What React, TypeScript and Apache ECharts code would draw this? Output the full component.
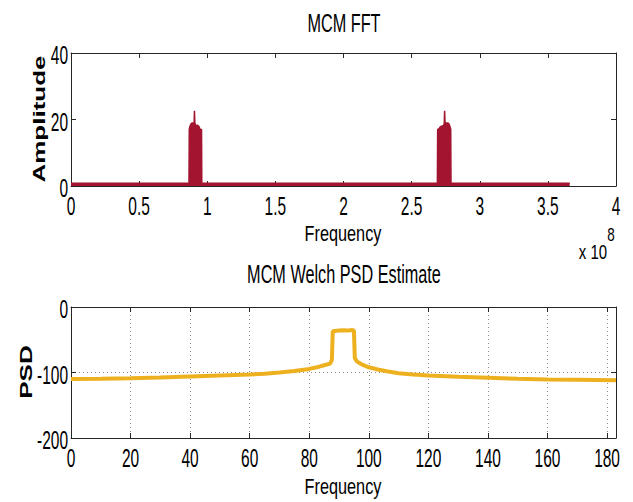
import React, { useEffect, useRef } from "react";
import * as echarts from "echarts";

// FFT spectrum (frequency in units of 1e8 Hz, amplitude)
const fftFreq = [
  0, 0.866, 0.868, 0.872, 0.88, 0.89, 0.9, 0.904, 0.906, 0.909, 0.915, 0.93, 0.94, 0.948, 0.958, 0.96,
  2.689, 2.691, 2.7, 2.71, 2.72, 2.735, 2.74, 2.742, 2.745, 2.755, 2.765, 2.775, 2.782, 2.787, 2.789, 3.66,
];
const fftAmp = [
  0.8, 0.8, 17.0, 17.8, 18.6, 19.0, 18.8, 19.2, 22.6, 19.0, 18.2, 18.3, 17.8, 17.0, 17.0, 0.8,
  0.8, 17.0, 17.2, 17.8, 18.0, 18.2, 19.0, 22.6, 19.2, 18.8, 19.0, 18.6, 17.8, 17.0, 0.8, 0.8,
];

// Welch PSD estimate
const psdFreq = [
  0, 10, 20, 30, 40, 50, 60, 65, 70, 75, 80, 83, 85, 87, 87.6, 87.9, 88.5, 90, 91.5, 93, 94.5, 95.0,
  95.3, 96, 97, 98, 100, 103, 106, 110, 115, 120, 130, 140, 150, 160, 170, 183,
];
const psdDb = [
  -110, -109.5, -108.8, -107.5, -106, -104.5, -103, -101.8, -100, -97.8, -94.5, -91.5, -89, -86.5, -81,
  -37, -36.5, -36, -35.5, -35.8, -35.2, -36, -78, -83, -86, -88.5, -92, -95.5, -98, -101, -103, -104.5,
  -106.5, -108, -109.5, -110.5, -111, -112,
];

// tick labels
const fftTickLabels = ["0", "0.5", "1", "1.5", "2", "2.5", "3", "3.5", "4"];
const ampTickLabels = ["0", "20", "40"];
const psdFreqTickLabels = ["0", "20", "40", "60", "80", "100", "120", "140", "160", "180"];
const psdTickLabels = ["-200", "-100", "0"];

const fftRange = { min: 0, max: 4, interval: 0.5 };
const ampRange = { min: 0, max: 40, interval: 20 };
const psdFreqRange = { min: 0, max: 183, interval: 20 };
const psdRange = { min: -200, max: 0, interval: 100 };

const RED = "#A2142F";
const YELLOW = "#EDB120";
const AXIS = "#262626";
const SANS = "'Liberation Sans', Arial, sans-serif";

export default function App() {
  const ref = useRef<HTMLDivElement>(null);

  useEffect(() => {
    document.body.style.margin = "0";
    const chart = echarts.init(ref.current!, undefined, { renderer: "svg" });

    const tick = { show: true, inside: true, length: 5, lineStyle: { color: AXIS } };
    const line = { show: true, lineStyle: { color: AXIS, width: 1 } };
    const grid = { show: true, lineStyle: { color: "#8c8c8c", type: [1, 3], width: 1 } };

    const mkAxis = (g: number, t: any, pos: string, split: boolean) => ({
      type: "value",
      gridIndex: g,
      position: pos,
      min: t.min,
      max: t.max,
      interval: t.interval,
      axisLine: { ...line, onZero: false },
      axisTick: tick,
      axisLabel: { show: false },
      splitLine: split ? grid : { show: false },
    });

    chart.setOption({
      animation: false,
      backgroundColor: "#fff",
      grid: [
        { left: 71, top: 53, width: 545, height: 133 },
        { left: 71, top: 307, width: 545, height: 131 },
      ],
      xAxis: [
        mkAxis(0, fftRange, "bottom", false),
        mkAxis(0, fftRange, "top", false),
        mkAxis(1, psdFreqRange, "bottom", true),
        mkAxis(1, psdFreqRange, "top", false),
      ],
      yAxis: [
        mkAxis(0, ampRange, "left", false),
        mkAxis(0, ampRange, "right", false),
        mkAxis(1, psdRange, "left", true),
        mkAxis(1, psdRange, "right", false),
      ],
      series: [
        {
          name: "MCM FFT",
          type: "line",
          xAxisIndex: 0,
          yAxisIndex: 0,
          showSymbol: false,
          data: fftFreq.map((f, i) => [f, fftAmp[i]]),
          lineStyle: { color: RED, width: 1.5 },
          itemStyle: { color: RED },
          areaStyle: { color: RED, opacity: 1 },
        },
        {
          name: "MCM Welch PSD Estimate",
          type: "line",
          xAxisIndex: 2,
          yAxisIndex: 2,
          showSymbol: false,
          data: psdFreq.map((f, i) => [f, psdDb[i]]),
          lineStyle: { color: YELLOW, width: 4 },
          itemStyle: { color: YELLOW },
        },
      ],
    });

    const txt = (text: string, x: number, y: number, size: number, opts: any = {}) => ({
      type: "text",
      x,
      y,
      rotation: opts.rotation || 0,
      scaleX: opts.scaleX ?? 1,
      scaleY: opts.scaleY ?? 1,
      silent: true,
      style: {
        text,
        fill: "#000",
        font: `${opts.bold ? "bold " : ""}${size}px ${SANS}`,
        textAlign: opts.align || "center",
        textVerticalAlign: "middle",
        align: opts.align || "center",
        verticalAlign: "middle",
      },
    });

    // Tick labels placed through the library's own axis scales
    const tickTexts: any[] = [];
    const xLabels = (labels: string[], xi: number, yi: number, yVal: number) =>
      labels.forEach((l) => {
        const [px, py] = chart.convertToPixel({ xAxisIndex: xi, yAxisIndex: yi } as any, [Number(l), yVal]) as number[];
        tickTexts.push(txt(l, px, py + 20, 25, { scaleX: 0.62 }));
      });
    const yLabels = (labels: string[], xi: number, yi: number, xVal: number) =>
      labels.forEach((l) => {
        const [px, py] = chart.convertToPixel({ xAxisIndex: xi, yAxisIndex: yi } as any, [xVal, Number(l)]) as number[];
        tickTexts.push(txt(l, px - 3, py + 2, 25, { scaleX: 0.62, align: "right" }));
      });
    xLabels(fftTickLabels, 0, 0, ampRange.min);
    yLabels(ampTickLabels, 0, 0, fftRange.min);
    xLabels(psdFreqTickLabels, 2, 2, psdRange.min);
    yLabels(psdTickLabels, 2, 2, psdFreqRange.min);

    chart.setOption({
      graphic: [
        txt("MCM FFT", 344, 23, 25, { scaleX: 0.65 }),
        txt("Frequency", 343, 233, 22, { scaleX: 0.74 }),
        txt("x 10", 593, 252, 20, { scaleX: 0.75 }),
        txt("8", 611, 235, 18, { scaleX: 0.75 }),
        txt("Amplitude", 39, 119, 26, { rotation: Math.PI / 2, scaleY: 0.67, bold: true }),
        txt("MCM Welch PSD Estimate", 344, 274, 25, { scaleX: 0.65 }),
        txt("Frequency", 343, 486, 22, { scaleX: 0.74 }),
        txt("PSD", 26, 372, 26, { rotation: Math.PI / 2, scaleY: 0.67, bold: true }),
        ...tickTexts,
      ],
    });

    return () => chart.dispose();
  }, []);

  return (
    <div
      ref={ref}
      style={{ position: "fixed", left: 0, top: 0, width: 633, height: 502, background: "#fff" }}
    />
  );
}
